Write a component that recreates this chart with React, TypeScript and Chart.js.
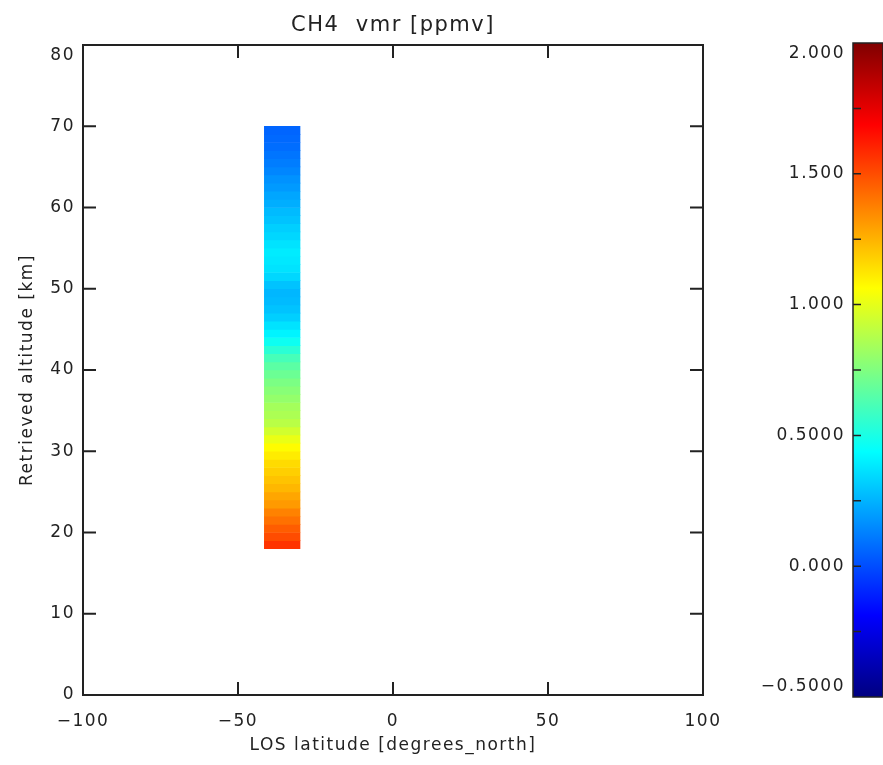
import React, { useEffect, useRef } from 'react';
import { Chart, registerables } from 'chart.js';

Chart.register(...registerables);

// ---------- data ----------
const chartTitle = 'CH4  vmr [ppmv]';
const xTitle = 'LOS latitude [degrees_north]';
const yTitle = 'Retrieved altitude [km]';

const xMin = -100;
const xMax = 100;
const xStep = 50;
const yMin = 0;
const yMax = 80;
const yStep = 10;

// latitude extent of the retrieved profile column
const latMin = -41.5;
const latMax = -30;

// retrieved altitude cells [km] and CH4 vmr [ppmv]
const altitudes = [
  18.5, 19.5, 20.5, 21.5, 22.5, 23.5, 24.5, 25.5, 26.5, 27.5,
  28.5, 29.5, 30.5, 31.5, 32.5, 33.5, 34.5, 35.5, 36.5, 37.5,
  38.5, 39.5, 40.5, 41.5, 42.5, 43.5, 44.5, 45.5, 46.5, 47.5,
  48.5, 49.5, 50.5, 51.5, 52.5, 53.5, 54.5, 55.5, 56.5, 57.5,
  58.5, 59.5, 60.5, 61.5, 62.5, 63.5, 64.5, 65.5, 66.5, 67.5,
  68.5, 69.5,
];
const ch4Vmr = [
  1.56, 1.50, 1.46, 1.41, 1.37, 1.31, 1.28, 1.24, 1.21, 1.18,
  1.15, 1.11, 1.07, 1.01, 0.95, 0.89, 0.86, 0.84, 0.80, 0.77,
  0.74, 0.70, 0.66, 0.61, 0.54, 0.47, 0.41, 0.37, 0.32, 0.29,
  0.27, 0.26, 0.29, 0.34, 0.37, 0.38, 0.39, 0.37, 0.34, 0.32,
  0.29, 0.27, 0.24, 0.22, 0.19, 0.17, 0.14, 0.12, 0.10, 0.08,
  0.07, 0.06,
];

// colour bar
const cbMin = -0.5;
const cbMax = 2.0;
const cbStep = 0.25;
const cbTickValues = [-0.5, 0, 0.5, 1, 1.5, 2];
const cbTickLabels = ['\u22120.5000', '0.000', '0.5000', '1.000', '1.500', '2.000'];

// ---------- styles ----------
const FONT = '"DejaVu Sans", sans-serif';
const INK = '#222222';

const clamp = (v: number) => Math.max(0, Math.min(1, v));
function jetRGB(t: number): [number, number, number] {
  const r = clamp(1.5 - Math.abs(4 * t - 3));
  const g = clamp(1.5 - Math.abs(4 * t - 2));
  const b = clamp(1.5 - Math.abs(4 * t - 1));
  return [Math.round(r * 255), Math.round(g * 255), Math.round(b * 255)];
}
function jet(v: number) {
  const t = (v - cbMin) / (cbMax - cbMin);
  const [r, g, b] = jetRGB(t);
  return `rgb(${r},${g},${b})`;
}

function fmtX(v: number) {
  return v < 0 ? '\u2212' + Math.abs(v) : String(v);
}

const spacingPlugin = {
  id: 'letterSpacing',
  beforeDraw(chart: any) {
    (chart.ctx as any).letterSpacing = '1.5px';
  },
};

function frameTicksPlugin(id: string, xId: string | null, yId: string | null, len: number, width: number, drawRight: boolean) {
  return {
    id,
    afterDraw(chart: any) {
      const { ctx, chartArea } = chart;
      const { left, right, top, bottom } = chartArea;
      ctx.save();
      ctx.strokeStyle = INK;
      ctx.lineWidth = width;
      ctx.beginPath();
      if (xId) {
        const s = chart.scales[xId];
        s.ticks.forEach((t: any) => {
          const p = s.getPixelForValue(t.value);
          if (Math.abs(p - left) < 1 || Math.abs(p - right) < 1) return;
          ctx.moveTo(p, bottom);
          ctx.lineTo(p, bottom - len);
          ctx.moveTo(p, top);
          ctx.lineTo(p, top + len);
        });
      }
      if (yId) {
        const s = chart.scales[yId];
        s.ticks.forEach((t: any) => {
          const p = s.getPixelForValue(t.value);
          if (Math.abs(p - top) < 1 || Math.abs(p - bottom) < 1) return;
          ctx.moveTo(left, p);
          ctx.lineTo(left + len, p);
          if (drawRight) {
            ctx.moveTo(right, p);
            ctx.lineTo(right - len, p);
          }
        });
      }
      ctx.stroke();
      ctx.strokeRect(left, top, right - left, bottom - top);
      ctx.restore();
    },
  };
}

export default function App() {
  const mainRef = useRef<HTMLCanvasElement | null>(null);
  const cbRef = useRef<HTMLCanvasElement | null>(null);

  useEffect(() => {
    if (!mainRef.current || !cbRef.current) return;

    const main = new Chart(mainRef.current, {
      type: 'bar',
      data: {
        datasets: [
          {
            data: altitudes.map((a) => ({ y: a, x: [latMin, latMax] })) as any,
            backgroundColor: ch4Vmr.map(jet),
            borderWidth: 0,
            categoryPercentage: 1,
            barPercentage: 1,
            xAxisID: 'x',
            yAxisID: 'y',
          },
        ],
      },
      options: {
        indexAxis: 'y',
        responsive: false,
        animation: false,
        events: [],
        layout: { padding: { left: 0, top: 0, right: 180, bottom: 0 } },
        plugins: {
          legend: { display: false },
          tooltip: { enabled: false },
          title: { display: false },
        },
        scales: {
          x: {
            type: 'linear',
            position: 'bottom',
            min: xMin,
            max: xMax,
            grid: { display: false, drawTicks: false, tickLength: 0 },
            border: { display: false },
            ticks: {
              stepSize: xStep,
              color: INK,
              padding: 16,
              maxRotation: 0,
              autoSkip: false,
              font: { family: FONT, size: 17 },
              callback: (v: any) => fmtX(Number(v)),
            },
            title: {
              display: true,
              text: xTitle,
              color: INK,
              font: { family: FONT, size: 17 },
              padding: { top: 0, bottom: 9 },
            },
            afterFit: (s: any) => {
              s.height = 70;
            },
          },
          xTop: {
            type: 'linear',
            position: 'top',
            min: xMin,
            max: xMax,
            grid: { display: false, drawTicks: false, tickLength: 0 },
            border: { display: false },
            ticks: { display: false },
            title: {
              display: true,
              text: chartTitle,
              color: INK,
              font: { family: FONT, size: 21, lineHeight: 1.2 },
              padding: { top: 13, bottom: 0 },
            },
            afterFit: (s: any) => {
              s.height = 45;
            },
          },
          y: {
            type: 'linear',
            position: 'left',
            min: yMin,
            max: yMax,
            offset: false,
            grid: { display: false, drawTicks: false, tickLength: 0, offset: false },
            border: { display: false },
            ticks: {
              stepSize: yStep,
              color: INK,
              padding: 8,
              autoSkip: false,
              font: { family: FONT, size: 17 },
              callback: (v: any) => (Number(v) === yMax ? ['', String(v)] : String(v)),
            },
            title: {
              display: true,
              text: yTitle,
              color: INK,
              font: { family: FONT, size: 17 },
              padding: { top: 17, bottom: 0 },
            },
            afterFit: (s: any) => {
              s.width = 83;
            },
          },
        },
      },
      plugins: [spacingPlugin, frameTicksPlugin('mainFrame', 'x', 'y', 13, 2, true)],
    });

    const cb = new Chart(cbRef.current, {
      type: 'bar',
      data: {
        labels: ['cb'],
        datasets: [
          {
            data: [[cbMin, cbMax]] as any,
            backgroundColor: (c: any) => {
              const chart = c.chart;
              const ys = chart.scales && chart.scales.y;
              if (!ys) return '#000080';
              const y0 = ys.getPixelForValue(cbMin);
              const y1 = ys.getPixelForValue(cbMax);
              if (!Number.isFinite(y0) || !Number.isFinite(y1) || y0 === y1) return '#000080';
              const g = chart.ctx.createLinearGradient(0, y0, 0, y1);
              const stops = [0, 0.125, 0.25, 0.375, 0.5, 0.625, 0.75, 0.875, 1];
              stops.forEach((t) => {
                const [r, gg, b] = jetRGB(t);
                g.addColorStop(t, `rgb(${r},${gg},${b})`);
              });
              return g;
            },
            borderWidth: 0,
            categoryPercentage: 1,
            barPercentage: 1,
          },
        ],
      },
      options: {
        responsive: false,
        animation: false,
        events: [],
        layout: { padding: { left: 0, top: 43, right: 0, bottom: 68 } },
        plugins: { legend: { display: false }, tooltip: { enabled: false }, title: { display: false } },
        scales: {
          x: { type: 'category', display: false },
          y: {
            type: 'linear',
            min: cbMin,
            max: cbMax,
            grid: { display: false, drawTicks: false, tickLength: 0 },
            border: { display: false },
            ticks: {
              stepSize: cbStep,
              color: INK,
              padding: 8,
              autoSkip: false,
              font: { family: FONT, size: 17 },
              callback: (v: any) => {
                const n = Number(v);
                const idx = cbTickValues.findIndex((t) => Math.abs(t - n) < 1e-6);
                if (idx < 0) return '';
                const label = cbTickLabels[idx];
                if (Math.abs(n - cbMax) < 1e-6) return ['', label];
                if (Math.abs(n - cbMin) < 1e-6) return [label, ''];
                return label;
              },
            },
            afterFit: (s: any) => {
              s.width = 113;
            },
          },
        },
      },
      plugins: [spacingPlugin, frameTicksPlugin('cbFrame', null, 'y', 8, 1.5, false)],
    });

    return () => {
      main.destroy();
      cb.destroy();
    };
  }, []);

  return (
    <div style={{ position: 'absolute', left: 0, top: 0, width: 883, height: 765, background: '#fff', overflow: 'hidden' }}>
      <canvas ref={mainRef} width={883} height={765} style={{ position: 'absolute', left: 0, top: 0 }} />
      <canvas ref={cbRef} width={143} height={765} style={{ position: 'absolute', left: 740, top: 0 }} />
    </div>
  );
}
